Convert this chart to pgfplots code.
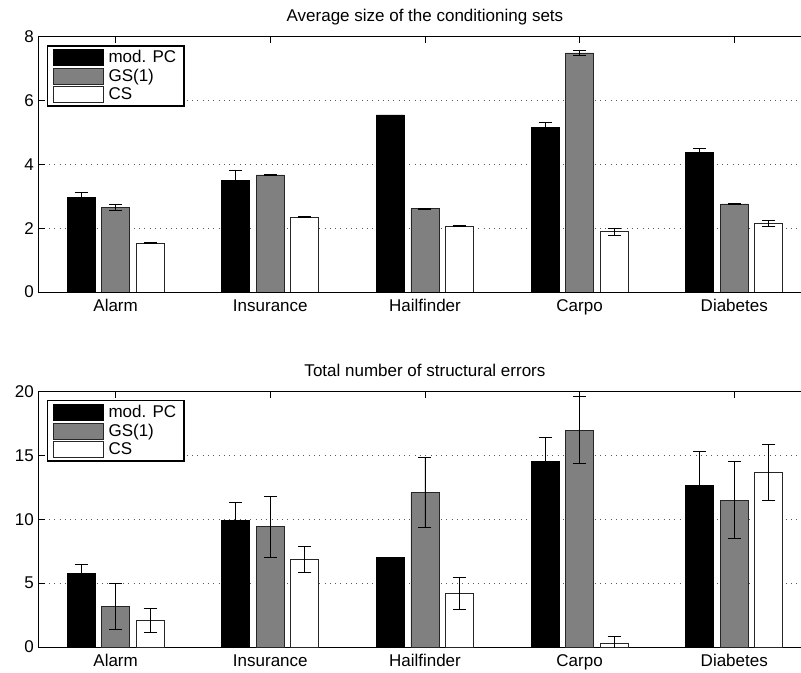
\documentclass[border=0pt]{standalone}
\usepackage{pgfplots}
\pgfplotsset{compat=1.18}
\usepackage{fontspec}
\setmainfont{Liberation Sans}
\newcommand{\lblfont}{\fontsize{17bp}{20bp}\selectfont}
\pgfplotsset{
  mystyle/.style={
    scale only axis, width=773.3bp, height=255.3bp,
    xmin=0.5, xmax=5.5, xtick={1,2,3,4,5},
    xticklabels={Alarm,Insurance,Hailfinder,Carpo,Diabetes},
    ybar=6.5bp, bar width=28bp,
    tick align=inside,
    major tick length=6.5bp,
    ymajorgrids,
    major grid style={black!65, line width=0.6bp, dash pattern=on 0.8bp off 4.5bp},
    axis line style={line width=0.8bp},
    every tick/.style={black, line width=0.7bp},
    tick label style={font=\lblfont},
    xticklabel style={yshift=-4bp},
    yticklabel style={xshift=-1bp},
    /pgf/number format/assume math mode=true,
    title style={font=\lblfont, at={(0.5,1)}, anchor=base, yshift=9.5bp},
    legend style={at={(0,1)}, anchor=north west, xshift=8.4bp, yshift=-8.3bp,
      draw=black, line width=1.5bp, font=\lblfont, inner xsep=6bp, inner ysep=3bp,
      row sep=2bp, nodes={inner sep=1.5bp}, cells={anchor=west},
      /tikz/every odd column/.append style={column sep=3bp}},
    legend image code/.code={\draw[#1, line width=0.6bp] (0bp,-8bp) rectangle (50bp,8bp);},
    error bars/y dir=both, error bars/y explicit,
    error bars/error bar style={black, line width=0.7bp},
    error bars/error mark options={rotate=90, mark size=6.5bp, line width=0.7bp, black},
  },
  pcbar/.style={fill=black, draw=black, line width=0.6bp},
  gsbar/.style={fill=black!50, draw=black!85, line width=0.6bp},
  csbar/.style={fill=white, draw=black!85, line width=0.6bp},
}
\begin{document}
\begin{tikzpicture}
\path[use as bounding box, clip] (0bp,0bp) rectangle (801bp,673bp);
\begin{axis}[mystyle, at={(38.3bp,381bp)}, anchor=south west,
  ymin=0, ymax=8, ytick={0,2,4,6,8},
  title={Average size of the conditioning sets}]
\addplot[pcbar] coordinates {(1,2.97) +- (0,0.16) (2,3.50) +- (0,0.31) (3,5.55) +- (0,0) (4,5.17) +- (0,0.15) (5,4.37) +- (0,0.14)};
\addplot[gsbar] coordinates {(1,2.65) +- (0,0.10) (2,3.67) +- (0,0.03) (3,2.61) +- (0,0.01) (4,7.49) +- (0,0.08) (5,2.76) +- (0,0.005)};
\addplot[csbar] coordinates {(1,1.54) +- (0,0.03) (2,2.35) +- (0,0.02) (3,2.07) +- (0,0.02) (4,1.90) +- (0,0.11) (5,2.15) +- (0,0.10)};
\legend{mod. PC, GS(1), CS}
\end{axis}
\begin{axis}[mystyle, at={(38.3bp,26bp)}, anchor=south west,
  ymin=0, ymax=20, ytick={0,5,10,15,20},
  title={Total number of structural errors}]
\addplot[pcbar] coordinates {(1,5.77) +- (0,0.71) (2,9.89) +- (0,1.44) (3,6.99) +- (0,0) (4,14.54) +- (0,1.85) (5,12.66) +- (0,2.69)};
\addplot[gsbar] coordinates {(1,3.19) +- (0,1.80) (2,9.42) +- (0,2.39) (3,12.09) +- (0,2.74) (4,16.99) +- (0,2.63) (5,11.51) +- (0,3.03)};
\addplot[csbar] coordinates {(1,2.09) +- (0,0.95) (2,6.87) +- (0,1.00) (3,4.20) +- (0,1.25) (4,0.29) +- (0,0.52) (5,13.65) +- (0,2.20)};
\legend{mod. PC, GS(1), CS}
\end{axis}
\end{tikzpicture}
\end{document}
